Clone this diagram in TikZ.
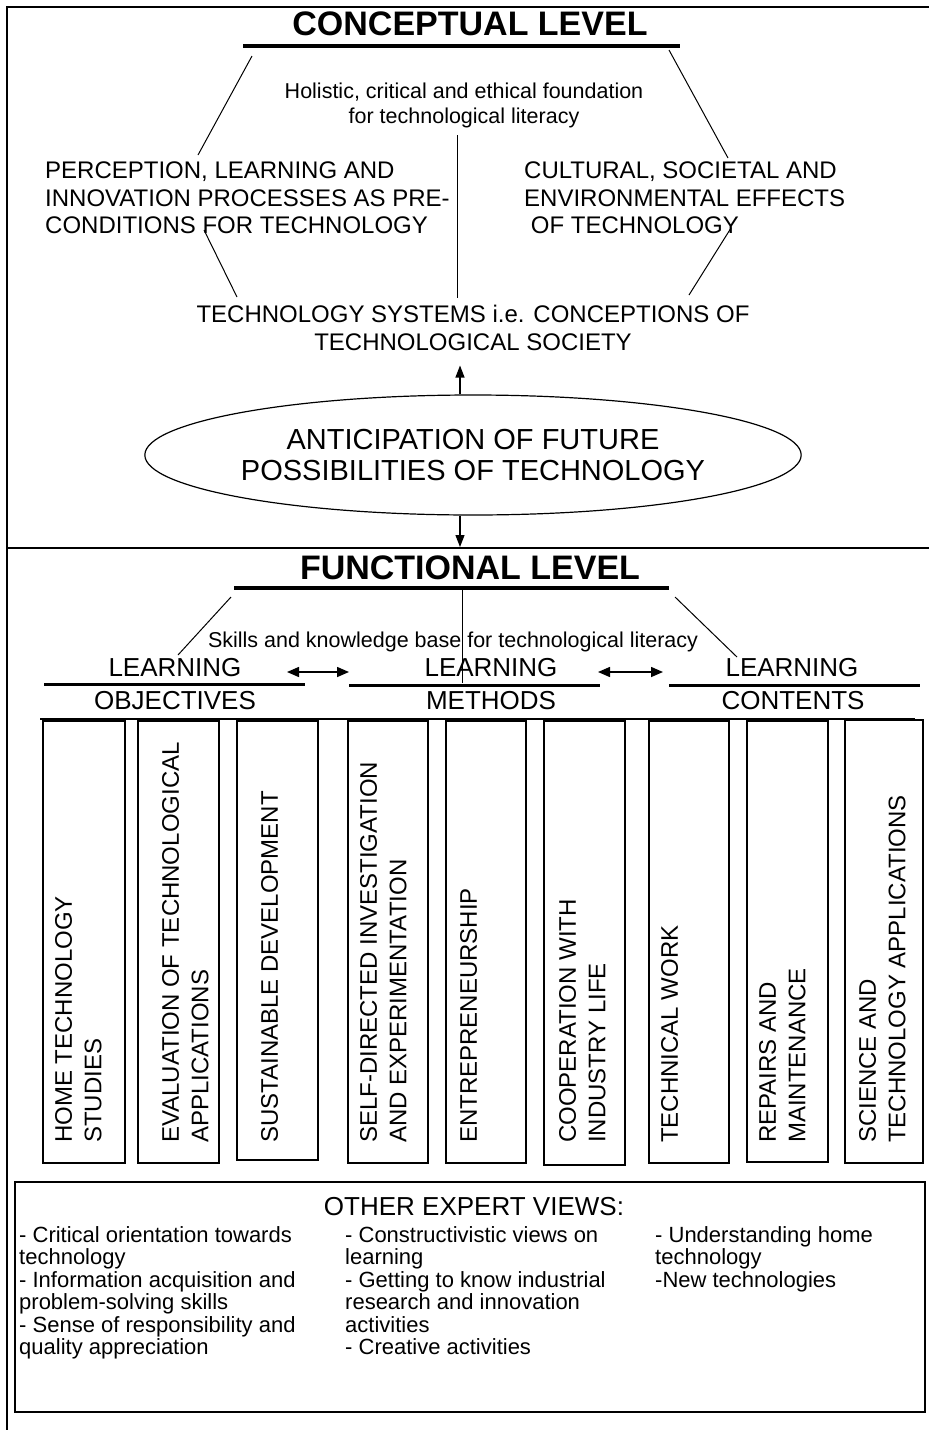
\documentclass[tikz,border=0pt]{standalone}
\usepackage{fontspec}
\setmainfont{Liberation Sans}
\usetikzlibrary{positioning}
\usetikzlibrary{shapes.geometric}
\usetikzlibrary{arrows.meta}

\begin{document}
\begin{tikzpicture}[
                x = 1pt, y = -1pt,
                headline/.style = {
                    font = \fontsize{34}{38}\selectfont\bfseries,
                    inner sep = 0pt
                },
                big/.style = {
                    font = \fontsize{24}{27.5}\selectfont,
                    inner sep = 0pt
                },
                small/.style = {
                    font = \fontsize{21.5}{25}\selectfont,
                    inner sep = 0pt
                },
                mid/.style = {
                    font = \fontsize{26}{32}\selectfont,
                    inner sep = 0pt
                },
                oval/.style = {
                    draw,
                    ellipse,
                    line width = 1.2pt,
                    minimum width = 597pt,
                    minimum height = 120pt,
                    inner sep = 0pt,
                    align = center,
                    font = \fontsize{29}{31}\selectfont
                },
                coltxt/.style = {
                    font = \fontsize{24}{29.5}\selectfont,
                    rotate = 90,
                    anchor = north west,
                    align = left,
                    inner sep = 0pt
                },
                list/.style = {
                    font = \fontsize{22}{22.5}\selectfont,
                    anchor = north west,
                    align = left,
                    inner sep = 0pt
                },
                frame/.style = {line width = 2.5pt},
                link/.style = {line width = 1pt},
                underline/.style = {line width = 4pt},
                subline/.style = {line width = 3pt},
                colbox/.style = {draw, line width = 1.6pt},
                arrow/.style = {-{Triangle[length = 12pt, width = 9pt]}, line width = 1.2pt},
                twoway/.style = {{Triangle[length = 12pt, width = 10pt]}-{Triangle[length = 12pt, width = 10pt]}, line width = 1.5pt}
            ]
            \useasboundingbox (0,0) rectangle (929,1430);
            %
            \draw[frame] (7,1430) -- (7,7) -- (929,7);
            \draw[frame] (7,548) -- (929,548);
            %
            % conceptual level
            \node[headline] (cl) at (470,24) {CONCEPTUAL LEVEL};
            \draw[underline] (243,46) -- (680,46);
            \node[small, align = center, anchor = north] (holistic) at (464,83)
                {Holistic, critical and ethical foundation\\for technological literacy};
            \node[big, align = left, anchor = north west] (percep) at (45,162)
                {PERCEPTION, LEARNING AND\\INNOVATION PROCESSES AS PRE-\\CONDITIONS FOR TECHNOLOGY};
            \node[big, align = left, anchor = north west] (cultural) at (524,162)
                {CULTURAL, SOCIETAL AND\\ENVIRONMENTAL EFFECTS\\\ OF TECHNOLOGY};
            \node[big, align = center, anchor = north] (sys) at (473,305)
                {TECHNOLOGY SYSTEMS i.e. CONCEPTIONS OF\\TECHNOLOGICAL SOCIETY};
            \node[oval] (ell) at (473,455)
                {ANTICIPATION OF FUTURE\\POSSIBILITIES OF TECHNOLOGY};
            % 
            \coordinate (axis) at (460,0);
            \coordinate (sep) at (460,547);
            \coordinate (c1) at (252,56);
            \coordinate (c2) at (198,155);
            \coordinate (c3) at (669,50);
            \coordinate (c4) at (728,158);
            \coordinate (c5) at (457,135);
            \coordinate (c6) at (457,298);
            \coordinate (c7) at (204,230);
            \coordinate (c8) at (237,297);
            \coordinate (c9) at (731,228);
            \coordinate (c10) at (689,295);
            % 
            \draw[link] (c1) -- (c2);
            \draw[link] (c3) -- (c4);
            \draw[link] (c5) -- (c6);
            \draw[link] (c7) -- (c8);
            \draw[link] (c9) -- (c10);
            \draw[arrow, shorten >= 15pt] (ell.north -| axis) -- (sys.south -| axis);
            \draw[arrow] (ell.south -| axis) -- (sep);
            %
            % functional level
            \node[headline] (fl) at (470,568) {FUNCTIONAL LEVEL};
            \draw[underline] (234,588) -- (669,588);
            \node[small, anchor = base] (skills) at (453,647)
                {Skills and knowledge base for technological literacy};
            \node[mid] (l1) at (175,668) {LEARNING};
            \node[mid] (l2) at (491,668) {LEARNING};
            \node[mid] (l3) at (792,668) {LEARNING};
            \node[mid] (obj) at (175,701) {OBJECTIVES};
            \node[mid] (meth) at (491,701) {METHODS};
            \node[mid] (cont) at (793,701) {CONTENTS};
            \draw[subline] (44,684) -- (305,684);
            \draw[subline] (349,685) -- (600,685);
            \draw[subline] (669,685) -- (920,685);
            % 
            \coordinate (f1) at (231,597);
            \coordinate (f2) at (178,655);
            \coordinate (f3) at (462,588);
            \coordinate (f4) at (462,683);
            \coordinate (f5) at (675,597);
            \coordinate (f6) at (737,657);
            \coordinate (a1) at (287,672);
            \coordinate (a2) at (349,672);
            \coordinate (a3) at (598,672);
            \coordinate (a4) at (663,672);
            % 
            \draw[link] (f1) -- (f2);
            \draw[link] (f3) -- (f4);
            \draw[link] (f5) -- (f6);
            \draw[twoway] (a1) -- (a2);
            \draw[twoway] (a3) -- (a4);
            %
            % columns
            \draw[line width = 1.5pt] (40,719) -- (915,719);
            \draw[colbox] (43,721) rectangle (125,1163);
            \draw[colbox] (138,721) rectangle (219,1163);
            \draw[colbox] (237,721) rectangle (318,1160);
            \draw[colbox] (348,721) rectangle (428,1163);
            \draw[colbox] (446,721) rectangle (526,1163);
            \draw[colbox] (544,721) rectangle (625,1165);
            \draw[colbox] (649,721) rectangle (729,1163);
            \draw[colbox] (747,721) rectangle (828,1162);
            \draw[colbox] (845,720) rectangle (923,1163);
            % 
            \node[coltxt] (t1) at (55,1143) {HOME TECHNOLOGY\\STUDIES};
            \node[coltxt] (t2) at (162,1143) {EVALUATION OF TECHNOLOGICAL\\APPLICATIONS};
            \node[coltxt] (t3) at (261,1143) {SUSTAINABLE DEVELOPMENT};
            \node[coltxt] (t4) at (360,1143) {SELF-DIRECTED INVESTIGATION\\AND EXPERIMENTATION};
            \node[coltxt] (t5) at (460,1143) {ENTREPRENEURSHIP};
            \node[coltxt] (t6) at (559,1143) {COOPERATION WITH\\INDUSTRY LIFE};
            \node[coltxt] (t7) at (661,1143) {TECHNICAL WORK};
            \node[coltxt] (t8) at (759,1143) {REPAIRS AND\\MAINTENANCE};
            \node[coltxt] (t9) at (859,1143) {SCIENCE AND\\TECHNOLOGY APPLICATIONS};
            %
            % expert views
            \draw[colbox] (15,1182) rectangle (925,1412);
            \node[mid] (views) at (474,1207) {OTHER EXPERT VIEWS:};
            \node[list] (v1) at (19,1226)
                {- Critical orientation towards\\technology\\- Information acquisition and\\problem-solving skills\\- Sense of responsibility and\\quality appreciation};
            \node[list] (v2) at (345,1226)
                {- Constructivistic views on\\learning\\- Getting to know industrial\\research and innovation\\activities\\- Creative activities};
            \node[list] (v3) at (655,1226)
                {- Understanding home\\technology\\-New technologies};
            %
        \end{tikzpicture}
\end{document}
